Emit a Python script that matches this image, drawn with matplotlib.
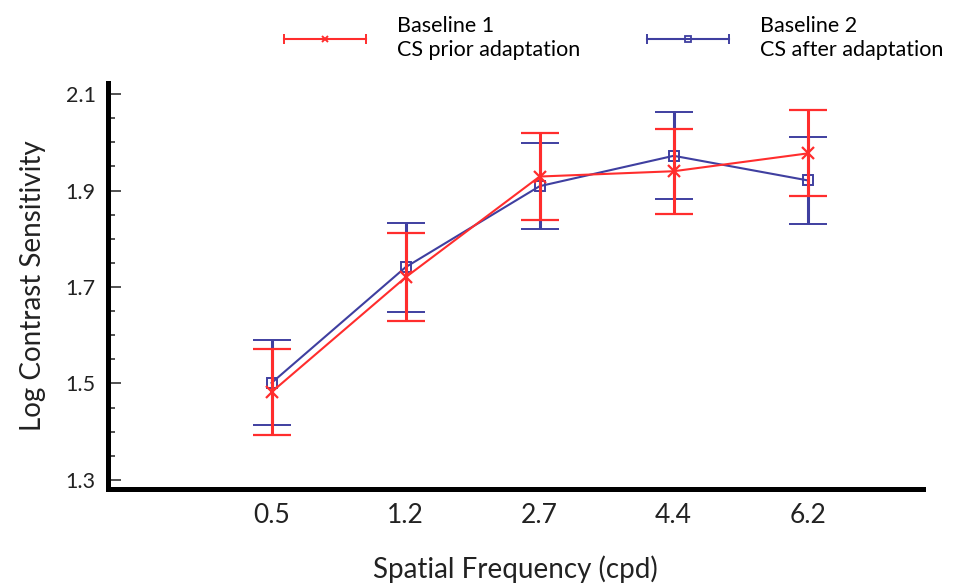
import numpy as np
import matplotlib
matplotlib.use("Agg")
import matplotlib.pyplot as plt
from matplotlib.lines import Line2D
from matplotlib.legend_handler import HandlerLine2D
from matplotlib.ticker import MultipleLocator

plt.rcParams['font.family'] = ['Lato', 'DejaVu Sans']

categories = ["0.5", "1.2", "2.7", "4.4", "6.2"]
baseline1 = [1.482, 1.720, 1.929, 1.940, 1.977]
baseline1_err = [0.090, 0.091, 0.091, 0.088, 0.089]
baseline2 = [1.501, 1.741, 1.909, 1.972, 1.921]
baseline2_err = [0.088, 0.092, 0.089, 0.090, 0.090]
label1 = "Baseline 1\nCS prior adaptation"
label2 = "Baseline 2\nCS after adaptation"
xlabel = "Spatial Frequency (cpd)"
ylabel = "Log Contrast Sensitivity"
yticks = [1.3, 1.5, 1.7, 1.9, 2.1]

RED = "#ff2d2d"
BLUE = "#3f3fa0"

fig = plt.figure(figsize=(9.55, 5.86), dpi=100)
ax = fig.add_axes([0.1131, 0.1655, 0.8534, 0.6929])

x = np.arange(len(categories))
ax.errorbar(x, baseline2, yerr=baseline2_err, color=BLUE, lw=1.5,
            marker='s', ms=7, mfc='none', mec=BLUE, mew=1.4,
            capsize=14, capthick=2.2, elinewidth=2.2, zorder=3)
ax.errorbar(x, baseline1, yerr=baseline1_err, color=RED, lw=1.5,
            marker='x', ms=8, mew=1.6,
            capsize=14, capthick=2.2, elinewidth=2.2, zorder=4)

ax.set_xlim(-1.22, 4.86)
ax.set_ylim(1.281, 2.123)
ax.set_xticks(x)
ax.set_xticklabels(categories)
ax.set_yticks(yticks)
ax.set_yticklabels([f"{v:.1f}" for v in yticks])
ax.yaxis.set_minor_locator(MultipleLocator(0.05))

for s in ['top', 'right']:
    ax.spines[s].set_visible(False)
for s in ['left', 'bottom']:
    ax.spines[s].set_linewidth(3.6)
    ax.spines[s].set_color('black')

ax.tick_params(axis='y', which='major', direction='in', length=9, width=1.2,
               color='#333333', labelsize=15.5, pad=9, labelcolor='#222222')
ax.tick_params(axis='y', which='minor', direction='in', length=5, width=1.2,
               color='#333333')
ax.tick_params(axis='x', length=0, labelsize=19, pad=10, labelcolor='#222222')

ax.set_xlabel(xlabel, fontsize=20, labelpad=20, color='#222222')
ax.set_ylabel(ylabel, fontsize=20, labelpad=14, color='#222222')


class CapHandler(HandlerLine2D):
    def create_artists(self, legend, orig_handle, xdescent, ydescent,
                       width, height, fontsize, trans):
        artists = super().create_artists(legend, orig_handle, xdescent, ydescent,
                                         width, height, fontsize, trans)
        xdata, _ = self.get_xdata(legend, xdescent, ydescent, width, height, fontsize)
        yv = (height - ydescent) / 2.0
        cap = Line2D([xdata[0], xdata[-1]], [yv, yv], linestyle='none',
                     marker='|', ms=7, mew=1.4, color=orig_handle.get_color(),
                     transform=trans)
        return list(artists) + [cap]


h1 = Line2D([], [], color=RED, lw=1.5, marker='x', ms=5, mew=1.4)
h2 = Line2D([], [], color=BLUE, lw=1.5, marker='s', ms=4, mfc='none', mec=BLUE, mew=1.3)
fig.legend([h1, h2], [label1, label2], ncol=2, loc='upper left',
           bbox_to_anchor=(0.2775, 1.005), frameon=False, fontsize=15.5,
           handlelength=3.8, handletextpad=1.45, columnspacing=3.1,
           handler_map={Line2D: CapHandler()}, labelspacing=0.2)

fig.savefig("out.png", dpi=100)
